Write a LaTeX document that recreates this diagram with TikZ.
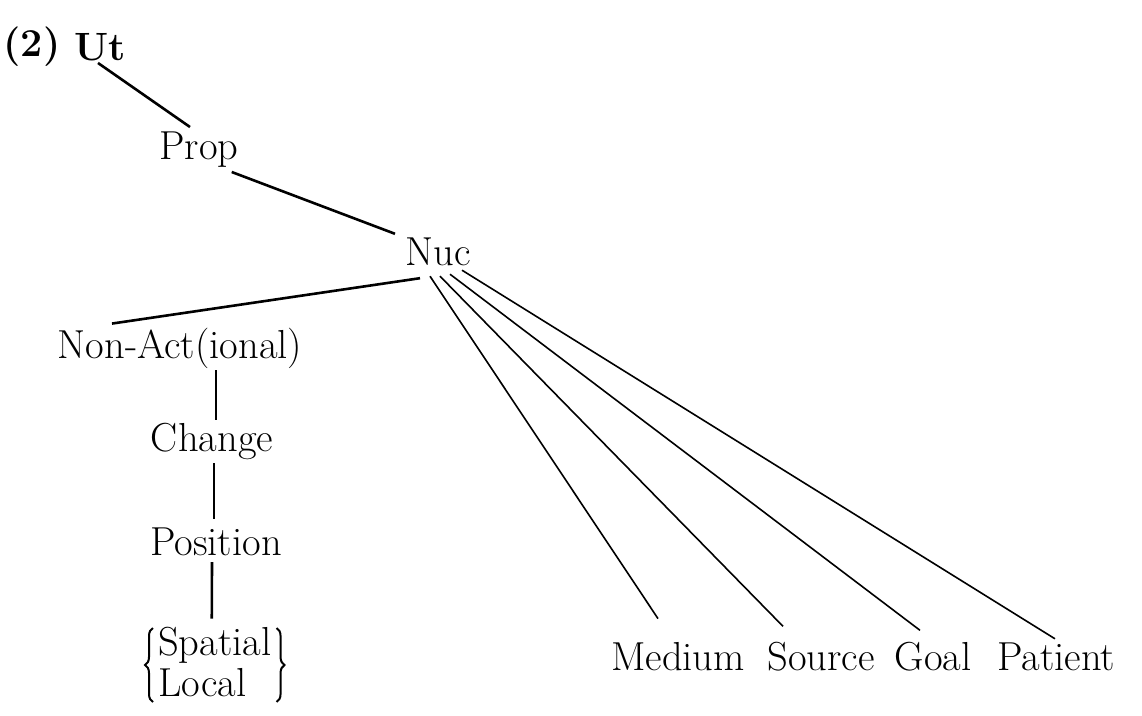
\documentclass[tikz,border=0pt]{standalone}
\usetikzlibrary{calc,decorations.pathreplacing}
\begin{document}
\begin{tikzpicture}[x=1pt,y=-1pt,
  lab/.style={inner sep=0pt,font=\fontsize{40.5}{46}\selectfont},
  bold lab/.style={inner sep=0pt,font=\fontsize{39.5}{46}\selectfont\bfseries},
  thick edge/.style={line width=2.6pt},
  thin edge/.style={line width=1.6pt},
  curly/.style={decorate,decoration={brace,amplitude=8pt},line width=2pt}]
\useasboundingbox (0,0) rectangle (1142,715);
% labels of the tree
\node[bold lab] (num) at (32,47) {(2)};
\node[bold lab] (ut) at (100,47) {Ut};
\node[lab] (prop) at (199,150) {Prop};
\node[lab] (nuc) at (438,252) {Nuc};
\node[lab] (nonact) at (180,348) {Non-Act(ional)};
\node[lab] (change) at (212,441) {Change};
\node[lab] (position) at (216,542) {Position};
\node[lab,anchor=west] (spatial) at (158,645) {Spatial};
\node[lab,anchor=west] (local) at (158,683) {Local};
\coordinate (bracetl) at ($(spatial.west)+(-5,-17)$);
\coordinate (bracebl) at ($(local.west)+(-5,19)$);
\coordinate (bracetr) at ($(spatial.east)+(5,-17)$);
\coordinate (bracebr) at ($(spatial.east)+(5,57)$);
\node[lab] (medium) at (678,657) {Medium};
\node[lab] (source) at (821,657) {Source};
\node[lab] (goal) at (933,657) {Goal};
\node[lab] (patient) at (1056,657) {Patient};
% curly braces round the alternatives
\draw[curly] (bracebl) -- (bracetl);
\draw[curly] (bracetr) -- (bracebr);
% branches
\draw[thick edge] ($(ut.south)+(-2,2)$) -- ($(prop.north)+(-9,-5)$);
\draw[thick edge] ($(prop.east)+(-7,22)$) -- ($(nuc.north)+(-43,-4)$);
\draw[thick edge] ($(nuc.south)+(-18,12)$) -- ($(nonact.north)+(-68,-4)$);
\draw[thick edge] ($(nonact.south)+(36,2)$) -- ($(change.north)+(4,-3)$);
\draw[thick edge] ($(change.south)+(2,4)$) -- ($(position.north)+(-2,-9)$);
\draw[thick edge] ($(position.south)+(-4,6)$) -- ($(spatial.north)+(-3,-8)$);
\draw[thin edge] ($(nuc.south)+(-8,10)$) -- ($(medium.north)+(-20,-24)$);
\draw[thin edge] ($(nuc.south)+(2,10)$) -- ($(source.north)+(-38,-16)$);
\draw[thin edge] ($(nuc.south)+(12,8)$) -- ($(goal.north)+(-13,-12)$);
\draw[thin edge] ($(nuc.south)+(24,4)$) -- ($(patient.north)+(-1,-4)$);
\end{tikzpicture}
\end{document}
